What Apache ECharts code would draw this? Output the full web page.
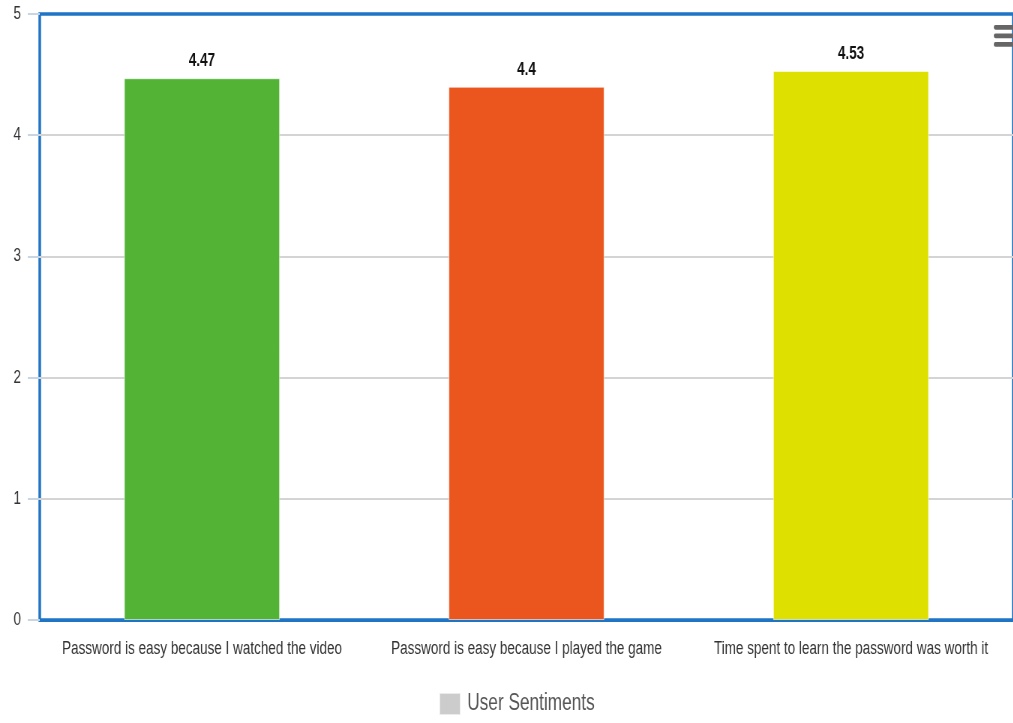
<!DOCTYPE html>
<html>
<head>
<meta charset="utf-8">
<script src="https://cdn.jsdelivr.net/npm/echarts@6/dist/echarts.min.js"></script>
<style>
  html, body { margin: 0; padding: 0; background: #fff; overflow: hidden; }
  /* the reference is a horizontally squeezed screenshot, so the chart is drawn wider and squeezed back */
  #myEcharts { width: 1351px; height: 723px; transform: scaleX(0.75); transform-origin: 0 0; }
</style>
</head>
<body>
<div id="myEcharts"></div>
<script>
  var categories = [
    'Password is easy because I watched the video',
    'Password is easy because I played the game',
    'Time spent to learn the password was worth it'
  ];
  var sentimentValues = [4.47, 4.4, 4.53];
  var barColors = ['#52b334', '#ea561d', '#dee000'];
  var yTicks = [0, 1, 2, 3, 4, 5];

  var font = '"Liberation Sans", Arial, sans-serif';
  var chartDom = document.getElementById('myEcharts');
  var myChart = echarts.init(chartDom);

  var barData = sentimentValues.map(function (v, idx) {
    return {
      value: v,
      itemStyle: { color: barColors[idx] }
    };
  });

  var option = {
    animation: false,
    grid: {
      left: 53,
      top: 14,
      width: 1304,
      bottom: 103,
      show: true,
      borderColor: '#1f74c4',
      borderWidth: 3.5
    },
    toolbox: {
      right: 0,
      top: 25,
      padding: 0,
      itemSize: 26,
      feature: {
        myMenu: {
          show: true,
          title: ' ',
          icon: 'path://M2,0H27V5H2A2.5,2.5,0,0,1,2,0Z M2,9H27V14H2A2.5,2.5,0,0,1,2,9Z M2,18H27V23H2A2.5,2.5,0,0,1,2,18Z',
          onclick: function () {}
        }
      },
      iconStyle: { color: '#666', borderColor: '#666', borderWidth: 0 }
    },
    legend: {
      bottom: 2,
      left: 580,
      itemWidth: 28,
      itemHeight: 22,
      itemGap: 8,
      icon: 'rect',
      textStyle: { fontFamily: font, fontSize: 23, color: '#555', padding: [0, 0, 0, 4] },
      data: [{ name: 'User Sentiments', itemStyle: { color: '#cccccc' } }]
    },
    xAxis: {
      type: 'category',
      data: categories,
      axisLine: { lineStyle: { color: '#1f74c4', width: 3 } },
      axisTick: { length: 20, lineStyle: { color: '#c8d5e2', width: 2 } },
      axisLabel: {
        interval: 0,
        margin: 20,
        fontFamily: font,
        fontSize: 18,
        color: '#333'
      }
    },
    yAxis: {
      type: 'value',
      min: 0,
      max: 5,
      interval: 1,
      axisLine: { show: false },
      axisTick: { show: true, length: 16, lineStyle: { color: '#c8d5e2', width: 2 } },
      axisLabel: {
        margin: 25,
        fontFamily: font,
        fontSize: 18,
        color: '#333',
        formatter: function (v) { return yTicks.indexOf(v) >= 0 ? String(v) : ''; }
      },
      splitLine: {
        showMaxLine: false,
        lineStyle: { color: '#d4d4d4', width: 2 }
      }
    },
    series: [{
      name: 'User Sentiments',
      type: 'bar',
      barWidth: '48%',
      data: barData,
      itemStyle: { borderColor: 'rgba(255,255,255,0.6)', borderWidth: 1 },
      label: {
        show: true,
        position: 'top',
        distance: 8,
        fontFamily: font,
        fontWeight: 'bold',
        fontSize: 18,
        color: '#111'
      }
    }]
  };

  myChart.setOption(option);
</script>
</body>
</html>
